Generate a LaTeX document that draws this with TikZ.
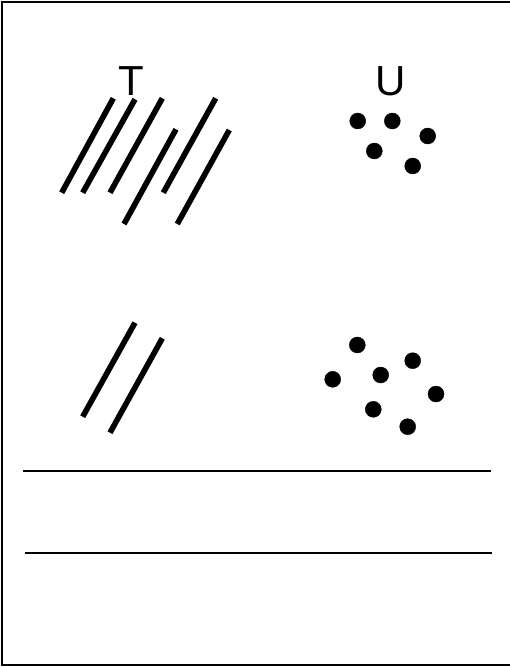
\documentclass[tikz,border=0pt]{standalone}
\usepackage{fontspec}
\setmainfont{Liberation Sans}
\usepackage{tikz}
\usetikzlibrary{positioning}

\begin{document}
\begin{tikzpicture}[x=1pt,y=-1pt,
  stick/.style={line width=5.6pt},
  rule/.style={line width=2.2pt},
  lbl/.style={inner sep=0pt,font=\fontsize{42}{42}\selectfont}]
\useasboundingbox (0,0) rectangle (510,667);
\draw[line width=1.6pt] (2,2) rectangle (512,665);
\node[lbl] (labT) at (131.7,81) {T};
\node[lbl] (labU) at (390.5,81) {U};
\draw[stick] (113.3,98.3) -- (61.7,192.7); \draw[stick] (135,99.3) -- (82.7,192.7);
\draw[stick] (162.3,98.3) -- (110,192.7); \draw[stick] (176,129.3) -- (124,224);
\draw[stick] (215.7,98.3) -- (163.3,192.7); \draw[stick] (229.3,130) -- (177.3,224);
\draw[stick] (135,322.7) -- (82.7,416.7); \draw[stick] (162.3,338.3) -- (110,432.7);
\filldraw (357.7,121) circle(8); \filldraw (392.3,121) circle(8);
\filldraw (427.7,136) circle(8); \filldraw (374.3,151) circle(8);
\filldraw (412.7,166) circle(8);
\filldraw (357.3,345) circle(8); \filldraw (412.7,360.7) circle(8);
\filldraw (332.7,379.3) circle(8); \filldraw (380.7,375) circle(8);
\filldraw (436,394) circle(8); \filldraw (373.3,409.3) circle(8);
\filldraw (407.7,426.7) circle(8);
\draw[rule] (23.3,470.7) -- (490.7,470.7);
\draw[rule] (24.7,553.3) -- (491.7,553.3);
\end{tikzpicture}
\end{document}
